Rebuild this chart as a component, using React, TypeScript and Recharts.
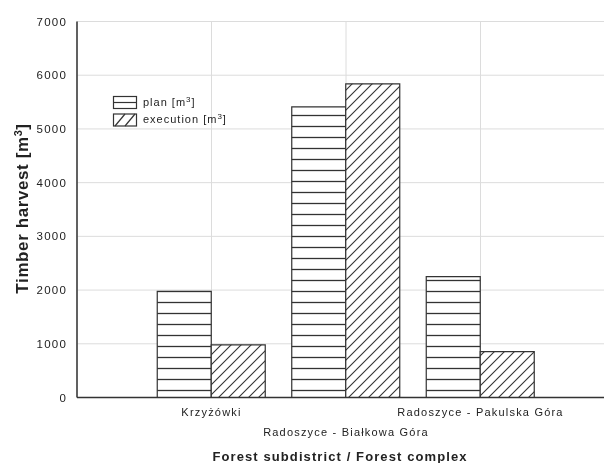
import React from 'react';
import { BarChart, Bar, XAxis, YAxis, CartesianGrid, Legend } from 'recharts';

const categories = ['Krzyżówki', 'Radoszyce - Białkowa Góra', 'Radoszyce - Pakulska Góra'];
const planValues = [1975, 5410, 2250];
const executionValues = [980, 5840, 855];
const yTicks = [0, 1000, 2000, 3000, 4000, 5000, 6000, 7000];

const data = categories.map((name, i) => ({
  name,
  plan: planValues[i],
  execution: executionValues[i],
}));

const FONT = '"Liberation Sans", Arial, Helvetica, sans-serif';
const INK = '#333333';

const XTick = (props: any) => {
  const { x, payload, index } = props;
  const y = index % 2 === 1 ? 428 : 407.5;
  return (
    <text x={x} y={y} textAnchor="middle" fontFamily={FONT} fontSize={11} letterSpacing={1.2} fill="#222">
      {payload.value}
    </text>
  );
};

const YLabel = () => (
  <text
    x={20}
    y={200.5}
    transform="rotate(-90 20 200.5)"
    textAnchor="middle"
    fontFamily={FONT}
    fontSize={17}
    fontWeight="bold"
    letterSpacing={0.6}
    fill="#222"
  >
    Timber harvest [m<tspan dy={-6} fontSize={11}>3</tspan><tspan dy={6}>]</tspan>
  </text>
);

const XTitle = () => (
  <text x={332} y={452.5} textAnchor="middle" fontFamily={FONT} fontSize={13} fontWeight="bold" letterSpacing={1.1} fill="#222">
    Forest subdistrict / Forest complex
  </text>
);

const LegendBox = () => (
  <svg width={170} height={34} style={{ display: 'block', overflow: 'visible' }}>
    <rect x={0.5} y={0.5} width={23} height={12} fill="#fff" stroke={INK} strokeWidth={1.2} />
    <line x1={0.5} y1={6.5} x2={23.5} y2={6.5} stroke={INK} strokeWidth={1.2} />
    <text x={30} y={10} fontFamily={FONT} fontSize={11} letterSpacing={1} fill="#222">
      plan [m<tspan dy={-4} fontSize={8}>3</tspan><tspan dy={4}>]</tspan>
    </text>
    <rect x={0.5} y={18} width={23} height={12} fill="#fff" stroke={INK} strokeWidth={1.2} />
    <line x1={2} y1={30} x2={12} y2={18} stroke={INK} strokeWidth={1.2} />
    <line x1={12} y1={30} x2={22} y2={18} stroke={INK} strokeWidth={1.2} />
    <text x={30} y={26.5} fontFamily={FONT} fontSize={11} letterSpacing={1} fill="#222">
      execution [m<tspan dy={-4} fontSize={8}>3</tspan><tspan dy={4}>]</tspan>
    </text>
  </svg>
);

const PAD = { left: 67.25, right: 67.25 };

export default function App() {
  return (
    <div style={{ position: 'fixed', left: 8, top: 8, width: 596, height: 455, overflow: 'hidden' }}>
      <BarChart
        width={607}
        height={460}
        data={data}
        margin={{ top: 13.5, right: 0, bottom: 10.5, left: 0 }}
        barGap={0}
        barSize={54}
      >
        <defs>
          <pattern id="stripes" patternUnits="userSpaceOnUse" x={0} y={0} width={10} height={11}>
            <rect x={0} y={0} width={10} height={11} fill="#fff" />
            <line x1={0} y1={8.5} x2={10} y2={8.5} stroke={INK} strokeWidth={1.3} />
          </pattern>
          <pattern id="hatch" patternUnits="userSpaceOnUse" x={0} y={0} width={10} height={10}>
            <rect x={0} y={0} width={10} height={10} fill="#fff" />
            <path d="M-1,1 l2,-2 M0,10 l10,-10 M9,11 l2,-2" stroke={INK} strokeWidth={1.1} />
          </pattern>
        </defs>
        <CartesianGrid stroke="#dcdcdc" strokeWidth={1} />
        <XAxis
          dataKey="name"
          padding={PAD}
          height={60}
          interval={0}
          tickLine={false}
          axisLine={{ stroke: INK, strokeWidth: 1.5 }}
          tick={<XTick />}
          label={<XTitle />}
        />
        <XAxis
          xAxisId="top"
          orientation="top"
          dataKey="name"
          padding={PAD}
          height={0}
          mirror
          interval={0}
          tick={false}
          tickSize={4}
          tickLine={{ stroke: INK, strokeWidth: 1.5 }}
          axisLine={{ stroke: INK, strokeWidth: 1.5 }}
        />
        <YAxis
          width={69}
          domain={[0, 7000]}
          ticks={yTicks}
          interval={0}
          tickLine={false}
          tickSize={0}
          tickMargin={10}
          axisLine={{ stroke: INK, strokeWidth: 1.5 }}
          tick={{ fontFamily: FONT, fontSize: 11.5, letterSpacing: 1.2, fill: '#222' }}
          label={<YLabel />}
        />
        <Legend
          layout="horizontal"
          verticalAlign="middle"
          align="center"
          wrapperStyle={{ left: 104.7, top: 88, width: 'auto' }}
          content={<LegendBox />}
        />
        <Bar dataKey="plan" fill="url(#stripes)" stroke={INK} strokeWidth={1.2} isAnimationActive={false} />
        <Bar dataKey="execution" fill="url(#hatch)" stroke={INK} strokeWidth={1.2} isAnimationActive={false} />
      </BarChart>
    </div>
  );
}
